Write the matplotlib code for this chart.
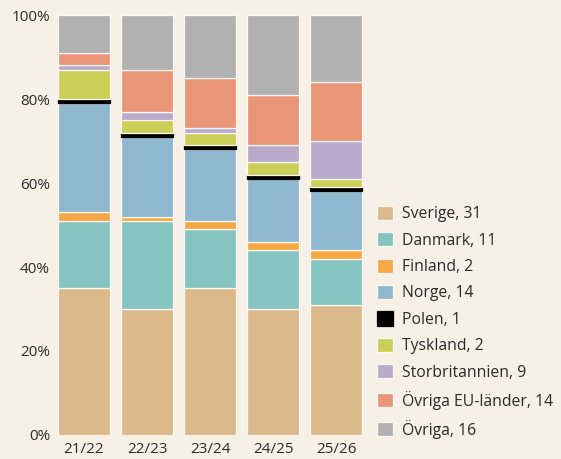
import numpy as np
import matplotlib.pyplot as plt

# Andel (%) per ursprungsland och läsår
years = ["21/22", "22/23", "23/24", "24/25", "25/26"]
categories = ["Sverige", "Danmark", "Finland", "Norge", "Polen", "Tyskland",
              "Storbritannien", "Övriga EU-länder", "Övriga"]

sverige = [35, 30, 35, 30, 31]
danmark = [16, 21, 14, 14, 11]
finland = [2, 1, 2, 2, 2]
norge = [26, 19, 17, 15, 14]
polen = [1, 1, 1, 1, 1]
tyskland = [7, 3, 3, 3, 2]
storbritannien = [1, 2, 1, 4, 9]
ovriga_eu = [3, 10, 12, 12, 14]
ovriga = [9, 13, 15, 19, 16]

series = [sverige, danmark, finland, norge, polen, tyskland,
          storbritannien, ovriga_eu, ovriga]
colors = ["#dbb98b", "#86c4c1", "#f5a843", "#8fb7ce", "#000000", "#cccf57",
          "#baabcc", "#e99577", "#b1b1b1"]

BG = "#f7f0e6"
TEXT = "#2b2b2b"
plt.rcParams['font.family'] = ['Open Sans', 'DejaVu Sans']

###############################################################################

fig = plt.figure(figsize=(5.61, 4.59), dpi=100, facecolor=BG)
ax = fig.add_axes([0.0992, 0.0523, 0.5503, 0.915])
ax.set_facecolor(BG)

x = np.arange(len(years))
bottom = np.zeros(len(years))
handles = []
for name, vals, col in zip(categories, series, colors):
    vals = np.array(vals, dtype=float)
    label = f"{name}, {vals[-1]:.0f}"  # legend shows latest year
    edge = "#000000" if col == "#000000" else "#fbf8f3"
    bars = ax.bar(x, vals, bottom=bottom, width=0.825, color=col,
                  edgecolor=edge, linewidth=0.9, label=label)
    handles.append(bars)
    bottom += vals

ax.set_xlim(-0.45, 4.45)
ax.set_ylim(0, 100)
ax.set_yticks(np.arange(0, 101, 20))
ax.set_yticklabels([f"{v}%" for v in range(0, 101, 20)])
ax.set_xticks(x)
ax.set_xticklabels(years)
ax.tick_params(axis="y", length=0, pad=4, labelsize=11, labelcolor=TEXT)
ax.tick_params(axis="x", length=0, pad=5, labelsize=11, labelcolor=TEXT)
for s in ax.spines.values():
    s.set_visible(False)

leg = ax.legend(handles, [h.get_label() for h in handles],
                loc="lower left", bbox_to_anchor=(1.022, -0.024),
                frameon=False, fontsize=11.3, labelcolor=TEXT,
                handlelength=1.0, handleheight=1.0, handletextpad=0.55,
                labelspacing=0.64, borderaxespad=0)

fig.savefig("out.png", dpi=100, facecolor=BG)
